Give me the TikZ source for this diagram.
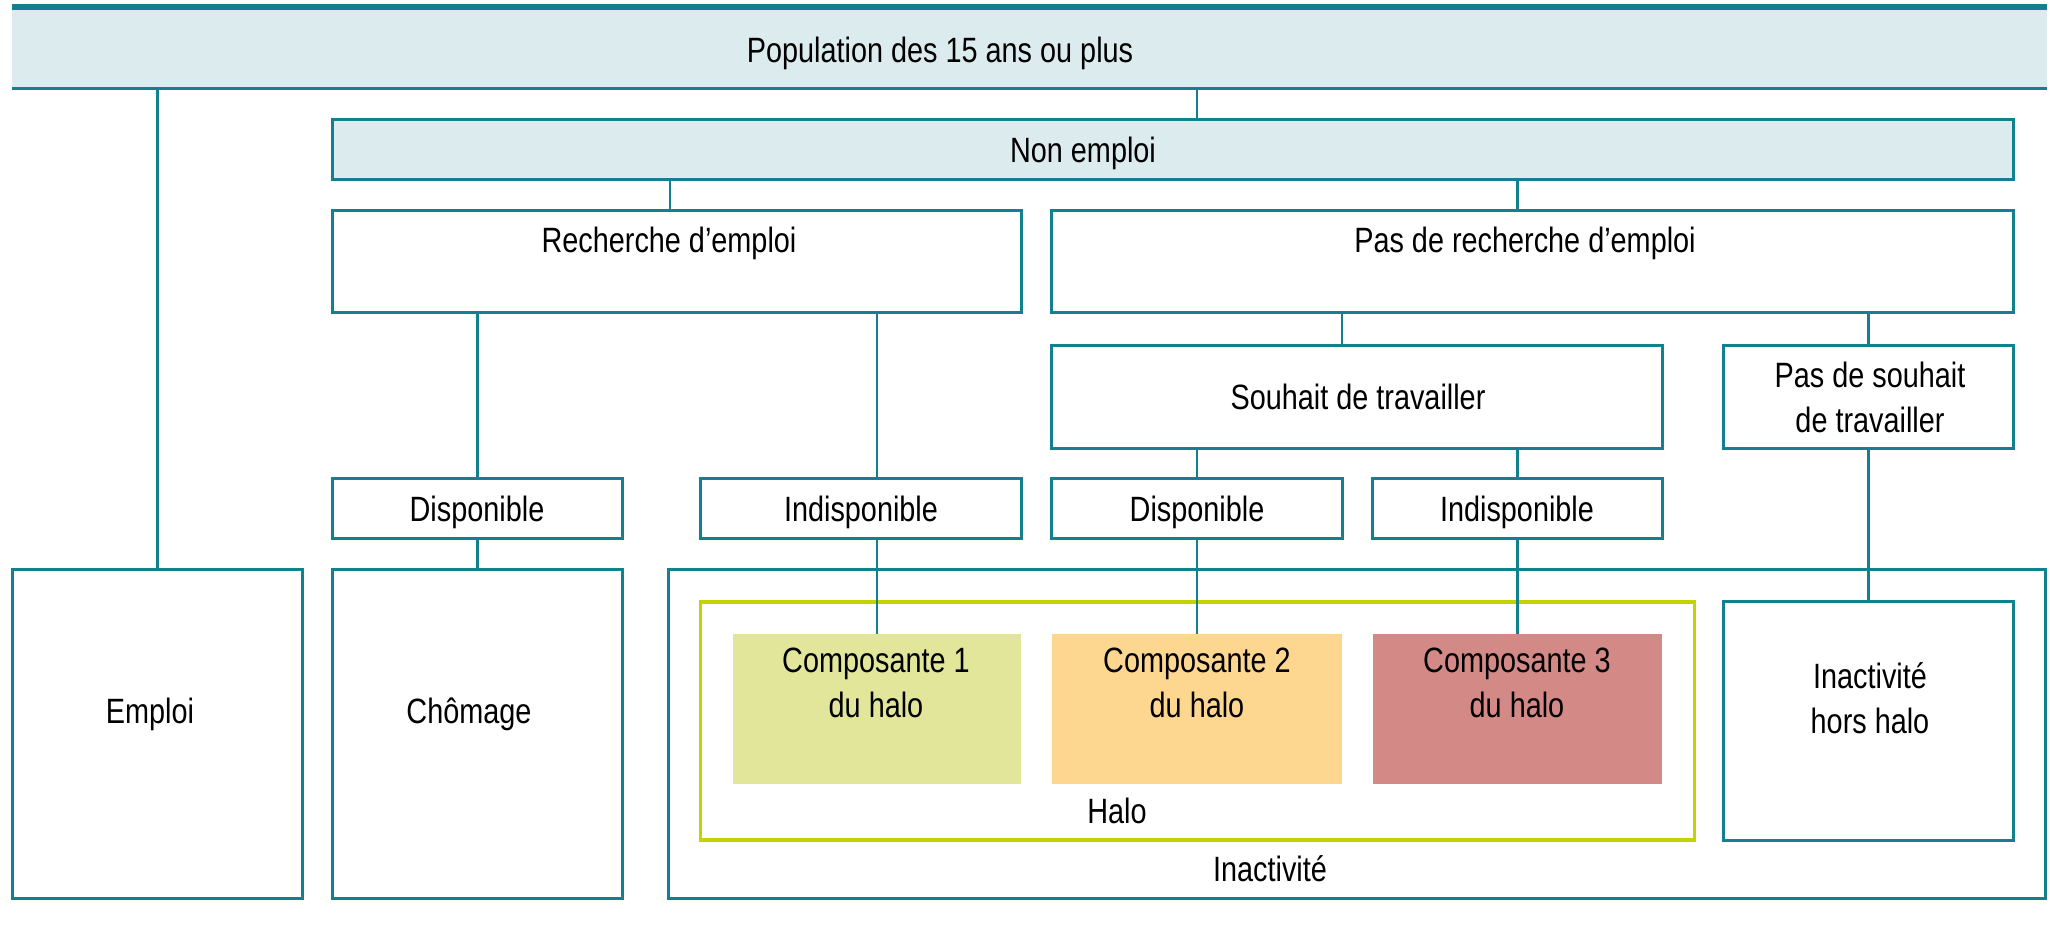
\documentclass[tikz,border=0pt]{standalone}
\usepackage{fontspec}
\setmainfont{Liberation Sans}[FakeStretch=0.82]
\usepackage{tikz}
\usetikzlibrary{positioning, calc}
\definecolor{lineblue}{HTML}{12808E}
\definecolor{bandfill}{HTML}{DCEBEE}
\definecolor{halogreen}{HTML}{C4D200}
\definecolor{compone}{HTML}{E2E69B}
\definecolor{comptwo}{HTML}{FDD690}
\definecolor{compthree}{HTML}{D38986}

\begin{document}
\begin{tikzpicture}[
    x=0.01cm, y=-0.01cm,
    box/.style={rectangle, draw=lineblue, line width=0.85pt, fill=white, inner sep=0pt, outer sep=0pt},
    band/.style={box, fill=bandfill},
    halobox/.style={rectangle, draw=halogreen, line width=0.95pt, inner sep=0pt, outer sep=0pt},
    comp/.style={rectangle, inner sep=0pt, outer sep=0pt, minimum width=2.89cm, minimum height=1.5cm},
    txt/.style={font=\fontsize{10pt}{12.8pt}\selectfont, align=center, inner sep=0pt},
    link/.style={draw=lineblue, line width=0.6pt}
]
    \useasboundingbox (0,0) rectangle (2050,942);

    % Top bands
    \node[rectangle, fill=bandfill, inner sep=0pt, minimum width=20.33cm, minimum height=0.8cm] (pop) at (1029.5, 48) {};
    \draw[draw=lineblue, line width=1.7pt] (pop.north west) -- (pop.north east);
    \draw[draw=lineblue, line width=0.85pt] (pop.south west) -- (pop.south east);
    \node[txt, anchor=base] (popT) at (940, 62) {Population des 15 ans ou plus};

    \node[band, minimum width=16.8cm, minimum height=0.59cm] (nonemploi) at (1173, 149.5) {};
    \node[txt, anchor=base] (nonemploiT) at (1083, 162) {Non emploi};

    % Search level
    \node[box, minimum width=6.88cm, minimum height=1.01cm] (recherche) at (677, 261.5) {};
    \node[txt, anchor=base] (rechercheT) at (669, 252) {Recherche d’emploi};
    \node[box, minimum width=9.61cm, minimum height=1.01cm] (pasrech) at (1532.5, 261.5) {};
    \node[txt, anchor=base] (pasrechT) at (1525, 252) {Pas de recherche d’emploi};

    % Wish level
    \node[box, minimum width=6.1cm, minimum height=1.02cm] (souhait) at (1357, 397) {};
    \node[txt, anchor=base] (souhaitT) at (1358, 409) {Souhait de travailler};
    \node[box, minimum width=2.89cm, minimum height=1.02cm] (passouhait) at (1868.5, 397) {};
    \node[txt] (passouhaitT) at (1870, 397) {Pas de souhait\\de travailler};

    % Availability level
    \node[box, minimum width=2.89cm, minimum height=0.59cm] (dispoA) at (477.5, 508.5) {};
    \node[box, minimum width=3.2cm, minimum height=0.59cm] (indispoA) at (861, 508.5) {};
    \node[box, minimum width=2.9cm, minimum height=0.59cm] (dispoB) at (1197, 508.5) {};
    \node[box, minimum width=2.89cm, minimum height=0.59cm] (indispoB) at (1517.5, 508.5) {};
    \node[txt, anchor=base] (dispoAT) at (477, 521) {Disponible};
    \node[txt, anchor=base] (indispoAT) at (861, 521) {Indisponible};
    \node[txt, anchor=base] (dispoBT) at (1197, 521) {Disponible};
    \node[txt, anchor=base] (indispoBT) at (1517, 521) {Indisponible};

    % Bottom boxes
    \node[box, minimum width=2.89cm, minimum height=3.28cm] (emploi) at (157.5, 734) {};
    \node[txt, anchor=base] (emploiT) at (150, 723) {Emploi};
    \node[box, minimum width=2.89cm, minimum height=3.28cm] (chomage) at (477.5, 734) {};
    \node[txt, anchor=base] (chomageT) at (469, 723) {Chômage};
    \node[box, minimum width=13.76cm, minimum height=3.28cm] (inactivite) at (1357, 734) {};
    \node[txt, anchor=base] (inactiviteT) at (1270, 881) {Inactivité};

    \node[halobox, minimum width=9.93cm, minimum height=2.38cm] (halo) at (1197.5, 721) {};
    \node[txt, anchor=base] (haloT) at (1117, 823) {Halo};
    \node[box, minimum width=2.89cm, minimum height=2.38cm] (horshalo) at (1868.5, 721) {};
    \node[txt] (horshaloT) at (1870, 698) {Inactivité\\hors halo};

    \node[comp, fill=compone, minimum width=2.88cm] (compA) at (877, 709) {};
    \node[comp, fill=comptwo, minimum width=2.9cm] (compB) at (1197, 709) {};
    \node[comp, fill=compthree] (compC) at (1517.5, 709) {};
    \node[txt] (compAT) at (876, 683) {Composante 1\\du halo};
    \node[txt] (compBT) at (1197, 683) {Composante 2\\du halo};
    \node[txt] (compCT) at (1517, 683) {Composante 3\\du halo};

    % Connectors
    \draw[link] (emploi.north |- pop.south) -- (emploi.north);
    \draw[link] (pop.south -| dispoB.north) -- (nonemploi.north -| dispoB.north);
    \draw[link] ([xshift=-0.07cm]recherche.north |- nonemploi.south) -- ([xshift=-0.07cm]recherche.north);
    \draw[link] (nonemploi.south -| indispoB.north) -- (pasrech.north -| indispoB.north);
    \draw[link] (dispoA.north |- recherche.south) -- (dispoA.north);
    \draw[link] (recherche.south -| compA.north) -- (indispoA.north -| compA.north);
    \draw[link] ([xshift=-0.15cm]souhait.north |- pasrech.south) -- ([xshift=-0.15cm]souhait.north);
    \draw[link] (passouhait.north |- pasrech.south) -- (passouhait.north);
    \draw[link] (dispoB.north |- souhait.south) -- (dispoB.north);
    \draw[link] (indispoB.north |- souhait.south) -- (indispoB.north);
    \draw[link] (dispoA.south) -- (chomage.north);
    \draw[link] (indispoA.south -| compA.north) -- (compA.north);
    \draw[link] (dispoB.south) -- (compB.north);
    \draw[link] (indispoB.south) -- (compC.north);
    \draw[link] (passouhait.south) -- (horshalo.north);
\end{tikzpicture}
\end{document}
